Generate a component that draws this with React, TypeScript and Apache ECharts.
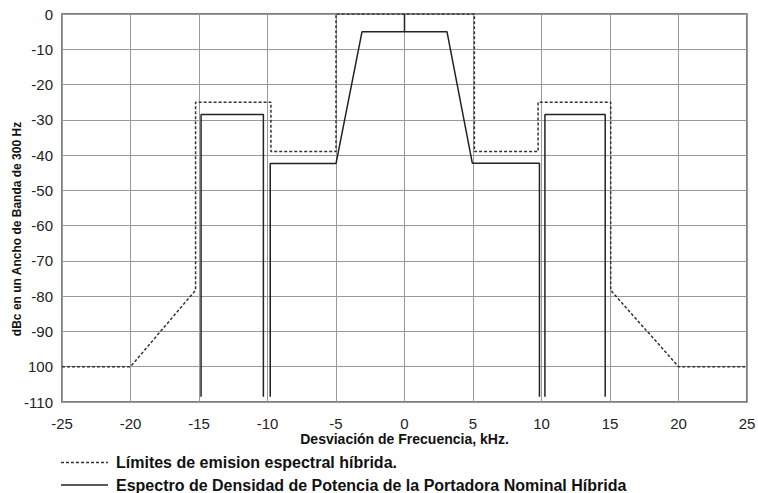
import React, { useEffect, useRef } from "react";
import * as echarts from "echarts";

const limitName = "Límites de emision espectral híbrida.";
const spectrumName = "Espectro de Densidad de Potencia de la Portadora Nominal Híbrida";

const limitX = [-25, -20, -15.25, -15.25, -9.75, -9.75, -5, -5, 5.1, 5.1, 9.75, 9.75, 15.05, 15.05, 20, 25];
const limitY = [-100, -100, -78.3, -25, -25, -39, -39, 0, 0, -39, -39, -25, -25, -78.3, -100, -100];

const spectrumX = [-14.85, -14.85, -10.3, -10.3, null, -9.8, -9.8, -5, -3.1, 0, 0, 0, 3.1, 4.95, 9.85, 9.85, null, 10.25, 10.25, 14.65, 14.65];
const spectrumY = [-108.5, -28.5, -28.5, -108.5, null, -108.5, -42.4, -42.4, -5, -5, 0, -5, -5, -42.3, -42.3, -108.5, null, -108.5, -28.5, -28.5, -108.5];

const xMin = -25;
const xMax = 25;
const xStep = 5;
const yMin = -110;
const yMax = 0;
const yStep = 10;

const xName = "Desviación de Frecuencia, kHz.";
const yName = "dBc en un Ancho de Banda de 300 Hz";

const pairs = (xs: (number | null)[], ys: (number | null)[]) =>
  xs.map((x, i) => [x == null ? "-" : x, ys[i] == null ? "-" : ys[i]]);

const FONT = "'Liberation Sans', Arial, sans-serif";
const LIMIT_STYLE = { color: "#333", width: 1.5, type: [3, 2] as number[] };
const SPECTRUM_STYLE = { color: "#222", width: 1.5, type: "solid" };

export default function App() {
  const ref = useRef<HTMLDivElement>(null);
  useEffect(() => {
    if (!ref.current) return;
    const chart = echarts.init(ref.current, null, { renderer: "svg" });
    chart.setOption({
      animation: false,
      backgroundColor: "#fff",
      grid: {
        left: 62,
        right: 11,
        top: 14,
        bottom: 91,
        show: true,
        borderColor: "#555",
        borderWidth: 1.5,
        outerBoundsMode: "none",
        containLabel: false,
      },
      graphic: [
        {
          type: "line",
          shape: { x1: 61, y1: 462.5, x2: 108, y2: 462.5 },
          style: { stroke: LIMIT_STYLE.color, lineWidth: LIMIT_STYLE.width, lineDash: LIMIT_STYLE.type },
        },
        {
          type: "text",
          x: 116,
          y: 462.5,
          style: {
            text: limitName,
            font: `bold 16px ${FONT}`,
            fill: "#111",
            verticalAlign: "middle",
          },
        },
        {
          type: "line",
          shape: { x1: 61, y1: 485, x2: 108, y2: 485 },
          style: { stroke: SPECTRUM_STYLE.color, lineWidth: SPECTRUM_STYLE.width },
        },
        {
          type: "text",
          x: 116,
          y: 485,
          style: {
            text: spectrumName,
            font: `bold 16px ${FONT}`,
            fill: "#111",
            verticalAlign: "middle",
          },
        },
      ],
      xAxis: {
        type: "value",
        min: xMin,
        max: xMax,
        interval: xStep,
        name: xName,
        nameLocation: "middle",
        nameGap: 30,
        nameMoveOverlap: false,
        nameTextStyle: { fontFamily: FONT, fontWeight: "bold", fontSize: 14, color: "#111" },
        axisLine: { show: false },
        axisTick: { show: false },
        axisLabel: { fontFamily: FONT, fontSize: 15, color: "#222", margin: 14 },
        splitLine: { show: true, lineStyle: { color: "#999", width: 1 } },
      },
      yAxis: {
        type: "value",
        min: yMin,
        max: yMax,
        interval: yStep,
        name: yName,
        nameLocation: "middle",
        nameGap: 39,
        nameRotate: 90,
        nameMoveOverlap: false,
        nameTextStyle: {
          fontFamily: FONT,
          fontWeight: "bold",
          fontSize: 12,
          color: "#111",
          padding: [0, 42, 0, 0],
        },
        axisLine: { show: false },
        axisTick: { show: false },
        axisLabel: {
          fontFamily: FONT,
          fontSize: 15,
          color: "#222",
          margin: 9,
          formatter: (v: number) => (v === -100 ? "100" : String(v)),
        },
        splitLine: { show: true, lineStyle: { color: "#999", width: 1 } },
      },
      series: [
        {
          name: limitName,
          type: "line",
          showSymbol: false,
          symbol: "none",
          connectNulls: false,
          data: pairs(limitX, limitY),
          lineStyle: LIMIT_STYLE,
          itemStyle: { color: LIMIT_STYLE.color },
          z: 3,
        },
        {
          name: spectrumName,
          type: "line",
          showSymbol: false,
          symbol: "none",
          connectNulls: false,
          data: pairs(spectrumX, spectrumY),
          lineStyle: SPECTRUM_STYLE,
          itemStyle: { color: SPECTRUM_STYLE.color },
          z: 4,
        },
      ],
    });
    return () => chart.dispose();
  }, []);
  return <div ref={ref} style={{ width: 758, height: 493, position: "absolute", left: 0, top: 0 }} />;
}
